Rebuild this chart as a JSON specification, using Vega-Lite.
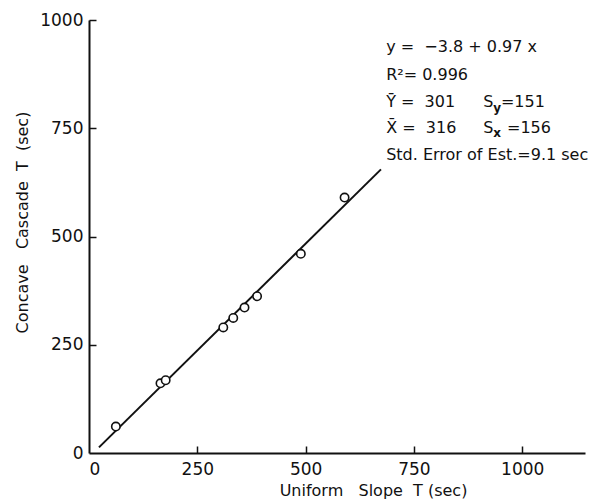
{
  "$schema": "https://vega.github.io/schema/vega-lite/v6.json",
  "width": 496,
  "height": 433,
  "autosize": {"type": "none"},
  "padding": {"left": 89, "top": 20, "right": 23, "bottom": 47},
  "background": "white",
  "config": {
    "view": {"stroke": null},
    "font": "DejaVu Sans",
    "axis": {
      "domainColor": "#111",
      "domainWidth": 2,
      "tickColor": "#111",
      "tickWidth": 1.5,
      "grid": false,
      "labelColor": "#111",
      "labelFont": "DejaVu Sans",
      "labelFontSize": 17,
      "titleColor": "#111",
      "titleFont": "DejaVu Sans",
      "titleFontSize": 16,
      "titleFontWeight": "normal"
    }
  },
  "resolve": {"axis": {"x": "independent", "y": "independent"}},
  "datasets": {
    "points": [
      {"x": 62, "y": 61},
      {"x": 165, "y": 161},
      {"x": 177, "y": 168},
      {"x": 310, "y": 290},
      {"x": 333, "y": 312},
      {"x": 359, "y": 336},
      {"x": 388, "y": 362},
      {"x": 489, "y": 460},
      {"x": 590, "y": 590}
    ],
    "fit": [
      {"x": 23, "y": 13},
      {"x": 674, "y": 655}
    ],
    "notes": [
      {"x": 686, "y": 938, "part": "main", "label": "y =\u00a0 −3.8 + 0.97 x"},
      {"x": 686, "y": 874, "part": "main", "label": "R²= 0.996"},
      {"x": 686, "y": 810, "part": "main", "label": "Ȳ =\u00a0 301"},
      {"x": 910, "y": 810, "part": "main", "label": "S"},
      {"x": 933, "y": 797, "part": "sub", "label": "y"},
      {"x": 951, "y": 810, "part": "main", "label": "=151"},
      {"x": 686, "y": 751, "part": "main", "label": "X̄ =\u00a0 316"},
      {"x": 910, "y": 751, "part": "main", "label": "S"},
      {"x": 933, "y": 738, "part": "sub", "label": "x"},
      {"x": 965, "y": 751, "part": "main", "label": "=156"},
      {"x": 686, "y": 688, "part": "main", "label": "Std. Error of Est.=9.1 sec"}
    ]
  },
  "layer": [
    {
      "data": {"name": "fit"},
      "mark": {"type": "line", "color": "#111", "strokeWidth": 2},
      "encoding": {
        "x": {
          "field": "x", "type": "quantitative",
          "scale": {"domain": [0, 1145], "nice": false, "zero": false},
          "axis": {
            "orient": "bottom",
            "values": [0, 250, 500, 750, 1000],
            "format": "d",
            "ticks": false,
            "labelPadding": 8,
            "title": "Uniform\u00a0\u00a0 Slope\u00a0 T (sec)",
            "titleX": 284,
            "titleY": 37,
            "titleBaseline": "middle",
            "titleAnchor": "middle",
            "titleAlign": "center"
          }
        },
        "y": {
          "field": "y", "type": "quantitative",
          "scale": {"domain": [0, 1000], "nice": false},
          "axis": {
            "orient": "left",
            "values": [0, 250, 500, 750, 1000],
            "format": "d",
            "ticks": false,
            "labelPadding": 6,
            "title": "Concave\u00a0\u00a0 Cascade\u00a0 T\u00a0 (sec)",
            "titleX": -67,
            "titleY": 202,
            "titleBaseline": "middle",
            "titleAlign": "center",
            "titleAngle": -90
          }
        }
      }
    },
    {
      "data": {"name": "points"},
      "mark": {"type": "point", "shape": "circle", "filled": false, "fill": "white", "fillOpacity": 1, "stroke": "#111", "strokeWidth": 1.6, "size": 70, "opacity": 1},
      "encoding": {
        "x": {
          "field": "x", "type": "quantitative",
          "axis": {
            "orient": "bottom",
            "values": [250, 500, 750, 1000],
            "offset": -7,
            "domain": false,
            "labels": false,
            "ticks": true,
            "tickSize": 7,
            "title": null
          }
        },
        "y": {
          "field": "y", "type": "quantitative",
          "axis": {
            "orient": "left",
            "values": [250, 500, 750, 1000],
            "offset": -7,
            "domain": false,
            "labels": false,
            "ticks": true,
            "tickSize": 7,
            "title": null
          }
        }
      }
    },
    {
      "data": {"name": "notes"},
      "transform": [{"filter": "datum.part === 'main'"}],
      "mark": {"type": "text", "align": "left", "baseline": "middle", "fontSize": 16, "color": "#111"},
      "encoding": {
        "x": {"field": "x", "type": "quantitative", "axis": null},
        "y": {"field": "y", "type": "quantitative", "axis": null},
        "text": {"field": "label"}
      }
    },
    {
      "data": {"name": "notes"},
      "transform": [{"filter": "datum.part === 'sub'"}],
      "mark": {"type": "text", "align": "left", "baseline": "middle", "fontSize": 12, "fontWeight": "bold", "color": "#111"},
      "encoding": {
        "x": {"field": "x", "type": "quantitative", "axis": null},
        "y": {"field": "y", "type": "quantitative", "axis": null},
        "text": {"field": "label"}
      }
    }
  ]
}
